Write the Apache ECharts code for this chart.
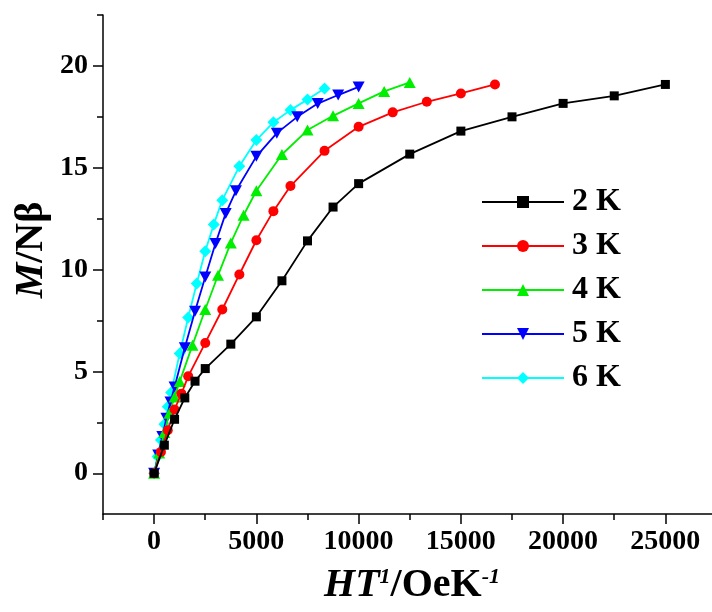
<!DOCTYPE html>
<html>
<head>
<meta charset="utf-8">
<script src="https://cdn.jsdelivr.net/npm/echarts@6/dist/echarts.min.js"></script>
<style>html,body{margin:0;padding:0;background:#fff}#c{width:712px;height:612px}</style>
</head>
<body>
<div id="c"></div>
<script>
// Series names
const seriesNames = ['2 K', '3 K', '4 K', '5 K', '6 K'];
// H/T values (Oe/K)
const x2K = [0, 500, 1000, 1500, 2000, 2500, 3750, 5000, 6250, 7500, 8750, 10000, 12500, 15000, 17500, 20000, 22500, 25000];
const y2K = [0, 1.38, 2.65, 3.70, 4.52, 5.14, 6.34, 7.68, 9.45, 11.41, 13.07, 14.22, 15.67, 16.80, 17.50, 18.16, 18.53, 19.09];
const x3K = [0, 333, 667, 1000, 1333, 1667, 2500, 3333, 4167, 5000, 5833, 6667, 8333, 10000, 11667, 13333, 15000, 16667];
const y3K = [0, 1.05, 2.11, 3.13, 3.91, 4.76, 6.40, 8.04, 9.76, 11.44, 12.87, 14.10, 15.83, 17.01, 17.72, 18.24, 18.65, 19.09];
const x4K = [0, 250, 500, 750, 1000, 1250, 1875, 2500, 3125, 3750, 4375, 5000, 6250, 7500, 8750, 10000, 11250, 12500];
const y4K = [0, 1.0, 2.0, 2.95, 3.75, 4.5, 6.29, 8.04, 9.72, 11.31, 12.67, 13.87, 15.65, 16.85, 17.55, 18.16, 18.75, 19.19];
const x5K = [0, 200, 400, 600, 800, 1000, 1500, 2000, 2500, 3000, 3500, 4000, 5000, 6000, 7000, 8000, 9000, 10000];
const y5K = [0, 0.9, 1.8, 2.7, 3.5, 4.24, 6.16, 7.96, 9.64, 11.28, 12.76, 13.87, 15.56, 16.70, 17.50, 18.15, 18.57, 18.97];
const x6K = [0, 167, 333, 500, 667, 833, 1250, 1667, 2083, 2500, 2917, 3333, 4167, 5000, 5833, 6667, 7500, 8333];
const y6K = [0, 0.82, 1.63, 2.41, 3.26, 3.96, 5.88, 7.65, 9.32, 10.9, 12.22, 13.41, 15.07, 16.36, 17.23, 17.83, 18.35, 18.89];

// Axis ticks
const xMajorTicks = [0, 5000, 10000, 15000, 20000, 25000];
const xMinorTicks = [-2500, 2500, 7500, 12500, 17500, 22500];
const yMajorTicks = [0, 5, 10, 15, 20];
const yMinorTicks = [2.5, 7.5, 12.5, 17.5, 22.5];

const colors = ['#000000', '#ff0000', '#00ee00', '#0000ff', '#00ffff'];
const symbols = ['rect', 'circle', 'triangle', 'path://M0,0 L10,0 L5,10 Z', 'diamond'];
const symbolSizes = [9, 10, [12, 11], [12, 11], 12];

const xs = [x2K, x3K, x4K, x5K, x6K];
const ys = [y2K, y3K, y4K, y5K, y6K];

const FONT = '"Liberation Serif", "Times New Roman", serif';

const series = seriesNames.map((name, i) => ({
  name: name,
  type: 'line',
  xAxisIndex: 0,
  yAxisIndex: 0,
  data: xs[i].map((v, j) => [v, ys[i][j]]),
  symbol: symbols[i],
  symbolSize: symbolSizes[i],
  showAllSymbol: true,
  clip: false,
  z: 10 - i,
  lineStyle: { color: colors[i], width: 1.8 },
  itemStyle: { color: colors[i] }
}));

const tickStyle = { color: '#000', width: 1.5 };
const labelStyle = { fontSize: 28, fontWeight: 'bold', fontFamily: FONT, color: '#000', formatter: v => String(v) };

const chart = echarts.init(document.getElementById('c'), null, { renderer: 'canvas' });
chart.setOption({
  animation: false,
  backgroundColor: '#ffffff',
  grid: { left: 103, right: 0, top: 15, bottom: 98, containLabel: false },
  xAxis: [
    {
      type: 'value', min: -2500, max: 27280, position: 'bottom',
      splitLine: { show: false },
      axisLine: { show: true, onZero: false, lineStyle: { color: '#000', width: 1.5 } },
      axisTick: { show: true, customValues: xMajorTicks, length: 10, lineStyle: tickStyle },
      axisLabel: Object.assign({ customValues: xMajorTicks, margin: 14, lineHeight: 28 }, labelStyle)
    },
    {
      type: 'value', min: -2500, max: 27280, position: 'bottom', offset: 0,
      splitLine: { show: false },
      axisLine: { show: false, onZero: false },
      axisTick: { show: true, customValues: xMinorTicks, length: 6, lineStyle: tickStyle },
      axisLabel: { show: false }
    }
  ],
  yAxis: [
    {
      type: 'value', min: -2, max: 22.5, position: 'left',
      splitLine: { show: false },
      axisLine: { show: true, onZero: false, lineStyle: { color: '#000', width: 1.5 } },
      axisTick: { show: true, customValues: yMajorTicks, length: 10, lineStyle: tickStyle },
      axisLabel: Object.assign({ customValues: yMajorTicks, margin: 15 }, labelStyle)
    },
    {
      type: 'value', min: -2, max: 22.5, position: 'left', offset: 0,
      splitLine: { show: false },
      axisLine: { show: false, onZero: false },
      axisTick: { show: true, customValues: yMinorTicks, length: 6, lineStyle: tickStyle },
      axisLabel: { show: false }
    }
  ],
  legend: {
    orient: 'vertical',
    left: 476, top: 181,
    itemWidth: 82, itemHeight: 15, itemGap: 12,
    data: seriesNames,
    textStyle: { fontSize: 32, lineHeight: 32, fontWeight: 'bold', fontFamily: FONT, color: '#000', padding: [0, 0, 0, 3] }
  },
  graphic: [
    {
      type: 'text', x: 412, y: 586,
      style: {
        text: '{i|HT}{s|1}{n|/OeK}{s|-1}',
        align: 'center', verticalAlign: 'middle',
        rich: {
          i: { fontSize: 40, fontStyle: 'italic', fontWeight: 'bold', fontFamily: FONT, fill: '#000', lineHeight: 40, verticalAlign: 'bottom' },
          n: { fontSize: 40, fontWeight: 'bold', fontFamily: FONT, fill: '#000', lineHeight: 40, verticalAlign: 'bottom' },
          s: { fontSize: 22, fontWeight: 'bold', fontStyle: 'italic', fontFamily: FONT, fill: '#000', verticalAlign: 'top', lineHeight: 18 }
        }
      }
    },
    {
      type: 'text', x: 32, y: 250, rotation: Math.PI / 2,
      style: {
        text: '{i|M}{n|/Nβ}',
        align: 'center', verticalAlign: 'middle',
        rich: {
          i: { fontSize: 40, fontStyle: 'italic', fontWeight: 'bold', fontFamily: FONT, fill: '#000' },
          n: { fontSize: 40, fontWeight: 'bold', fontFamily: FONT, fill: '#000' }
        }
      }
    }
  ],
  series: series
});
</script>
</body>
</html>
